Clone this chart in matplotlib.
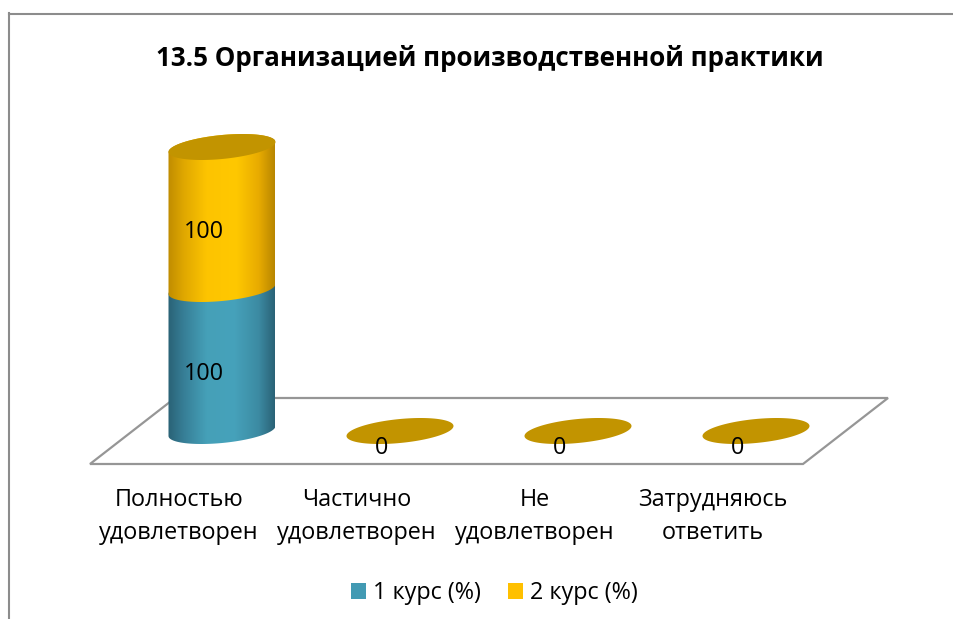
import numpy as np
import matplotlib
matplotlib.use("Agg")
import matplotlib.pyplot as plt
from matplotlib.colors import LinearSegmentedColormap
from matplotlib.lines import Line2D
from matplotlib.patches import Patch, PathPatch, Polygon
from matplotlib.path import Path

title = "13.5 Организацией производственной практики"
categories = ["Полностью\nудовлетворен", "Частично\nудовлетворен",
              "Не\nудовлетворен", "Затрудняюсь\nответить"]
series_names = ["1 курс (%)", "2 курс (%)"]
course1 = [100, 0, 0, 0]
course2 = [100, 0, 0, 0]

W, H = 954, 619
PX_X0, PX_DX = 222.0, 178.0     # pixel of first category, pixels per category
PX_Y0, PX_DY = 431.0, 1.42      # pixel of value 0, pixels per value unit
FONT = "Open Sans"
plt.rcParams["font.family"] = [FONT, "DejaVu Sans"]

fig = plt.figure(figsize=(W / 100, H / 100), dpi=100, facecolor="white")
ax = fig.add_axes([0, 0, 1, 1])
ax.set_xlim(-PX_X0 / PX_DX, (W - PX_X0) / PX_DX)
ax.set_ylim((PX_Y0 - H) / PX_DY, PX_Y0 / PX_DY)
ax.axis("off")


def px(x, y):
    return (x - PX_X0) / PX_DX, (PX_Y0 - y) / PX_DY


# chart frame
for xs, ys in (((9.5, 954), (13.5, 13.5)), ((9.5, 9.5), (13, 619))):
    fig.add_artist(Line2D([x / W for x in xs], [1 - y / H for y in ys],
                          color="#8c8c8c", lw=1.5))

# floor
floor = [px(90, 464), px(803, 464), px(888, 398), px(175, 398)]
ax.add_patch(Polygon(floor, closed=True, fill=False, edgecolor="#969696",
                     lw=1.6, joinstyle="miter", zorder=1))

A = 53.5 / PX_DX
B = 12.0 / PX_DY
S = 5.0 / PX_DY


def ring(cx, cy, t):
    return np.column_stack([cx + A * np.cos(t), cy + B * np.sin(t) + S * np.cos(t)])


styles = [
    LinearSegmentedColormap.from_list("teal", [
        (0, "#2a6276"), (0.15, "#377f97"), (0.36, "#45a0b8"),
        (0.62, "#46a2bb"), (0.85, "#3c8aa2"), (1, "#2a6276")]),
    LinearSegmentedColormap.from_list("gold", [
        (0, "#c08c00"), (0.15, "#e0a800"), (0.36, "#fdc400"),
        (0.64, "#ffc800"), (0.85, "#e8ab00"), (1, "#b88600")]),
]
CAP = "#c29400"
grad = np.linspace(0, 1, 256).reshape(1, -1)
front = np.linspace(np.pi, 2 * np.pi, 80)
back = np.linspace(0, np.pi, 80)


def cylinder(cx, y0, y1, cmap, z):
    pts = np.vstack([ring(cx, y0, front), ring(cx, y1, back)])
    patch = PathPatch(Path(np.vstack([pts, pts[0]]), closed=True),
                      fc="none", ec="none", transform=ax.transData, zorder=z)
    ax.add_patch(patch)
    extent = (cx - A, cx + A, y0 - 2 * B, y1 + 2 * B)
    im = ax.imshow(grad, cmap=cmap, aspect="auto", extent=extent, zorder=z,
                   interpolation="bilinear")
    im.set_clip_path(patch)


FS_LABEL = 16.8


def value_label(x, y, value, dy_px):
    ax.annotate(str(value), (x, y), xytext=(-18 * 0.72, -dy_px * 0.72),
                textcoords="offset points", ha="center", va="center",
                fontsize=FS_LABEL, color="black", zorder=10)


for i, (v1, v2) in enumerate(zip(course1, course2)):
    if v1 > 0:
        cylinder(i, 0, v1, styles[0], 3)
    if v2 > 0:
        cylinder(i, v1, v1 + v2, styles[1], 4)
    cap = ring(i, v1 + v2, np.linspace(0, 2 * np.pi, 160))
    ax.add_patch(Polygon(cap, closed=True, fc=CAP, ec="none", zorder=5))
    if v1 > 0:
        value_label(i, v1 / 2, v1, 14)
        value_label(i, v1 + v2 / 2, v2, 14)
    else:
        value_label(i, 0, v2, 17)
    ax.annotate(categories[i], (i, 0), xytext=(-43 * 0.72, -85.5 * 0.72),
                textcoords="offset points", ha="center", va="center",
                fontsize=FS_LABEL, linespacing=1.48, color="black", zorder=10)

ax.set_xlim(-PX_X0 / PX_DX, (W - PX_X0) / PX_DX)
ax.set_ylim((PX_Y0 - H) / PX_DY, PX_Y0 / PX_DY)

fig.text(490 / W, 1 - 58 / H, title, ha="center", va="center",
         fontsize=18.7, fontweight="bold", color="black")

handles = [Patch(fc="#429ab3", ec="none", label=series_names[0]),
           Patch(fc="#ffc000", ec="none", label=series_names[1])]
fig.legend(handles=handles, loc="center", bbox_to_anchor=(494.5 / W, 1 - 593 / H),
           ncol=2, frameon=False, fontsize=FS_LABEL, handlelength=0.65,
           handleheight=0.65, handletextpad=0.3, columnspacing=1.15)

fig.savefig("out.png", dpi=100)
